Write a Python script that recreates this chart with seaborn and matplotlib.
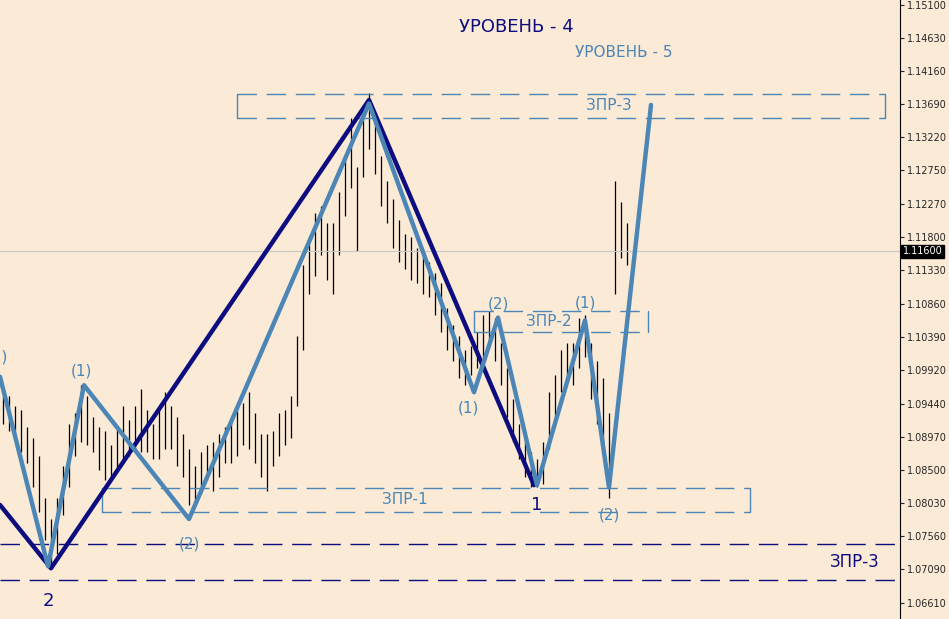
import numpy as np
import pandas as pd
import matplotlib
matplotlib.use("Agg")
import matplotlib.pyplot as plt
import seaborn as sns

# price bars (mid price and half-range), one bar every 2 x-units
bar_mid = [1.0935, 1.0930, 1.0920, 1.0905, 1.0885, 1.0860, 1.0830, 1.0780, 1.0745, 1.0770,
           1.0820, 1.0870, 1.0900, 1.0930, 1.0920, 1.0900, 1.0880, 1.0870, 1.0860, 1.0880,
           1.0900, 1.0895, 1.0910, 1.0920, 1.0905, 1.0890, 1.0900, 1.0920, 1.0910, 1.0890,
           1.0870, 1.0840, 1.0830, 1.0845, 1.0860, 1.0855, 1.0870, 1.0885, 1.0890, 1.0905,
           1.0915, 1.0920, 1.0895, 1.0870, 1.0860, 1.0880, 1.0900, 1.0910, 1.0925, 1.0990,
           1.1080, 1.1140, 1.1170, 1.1190, 1.1160, 1.1150, 1.1200, 1.1250, 1.1300, 1.1220,
           1.1310, 1.1345, 1.1310, 1.1260, 1.1230, 1.1200, 1.1175, 1.1160, 1.1150, 1.1140,
           1.1130, 1.1120, 1.1100, 1.1080, 1.1050, 1.1030, 1.1010, 1.0995, 1.1005, 1.1020,
           1.1040, 1.1050, 1.1035, 1.1000, 1.0960, 1.0920, 1.0890, 1.0870, 1.0850, 1.0845,
           1.0860, 1.0920, 1.0950, 1.0990, 1.1005, 1.1000, 1.1030, 1.1040, 1.0990, 1.0960,
           1.0930, 1.0870, 1.1180, 1.1190, 1.1170]
bar_span = [0.0020, 0.0025, 0.0020, 0.0030, 0.0025, 0.0035, 0.0040, 0.0030, 0.0035, 0.0040,
            0.0035, 0.0045, 0.0030, 0.0040, 0.0035, 0.0025, 0.0030, 0.0035, 0.0025, 0.0030,
            0.0040, 0.0025, 0.0030, 0.0045, 0.0030, 0.0025, 0.0035, 0.0040, 0.0030, 0.0035,
            0.0030, 0.0040, 0.0025, 0.0030, 0.0025, 0.0035, 0.0030, 0.0025, 0.0030, 0.0035,
            0.0030, 0.0040, 0.0035, 0.0030, 0.0040, 0.0025, 0.0030, 0.0025, 0.0030, 0.0050,
            0.0060, 0.0040, 0.0045, 0.0035, 0.0040, 0.0050, 0.0045, 0.0040, 0.0050, 0.0060,
            0.0045, 0.0040, 0.0040, 0.0035, 0.0030, 0.0035, 0.0030, 0.0025, 0.0030, 0.0025,
            0.0030, 0.0025, 0.0030, 0.0035, 0.0030, 0.0025, 0.0030, 0.0025, 0.0020, 0.0025,
            0.0030, 0.0025, 0.0030, 0.0030, 0.0035, 0.0030, 0.0025, 0.0030, 0.0025, 0.0020,
            0.0030, 0.0040, 0.0035, 0.0030, 0.0025, 0.0030, 0.0035, 0.0030, 0.0040, 0.0045,
            0.0050, 0.0060, 0.0080, 0.0040, 0.0030]

# wave of level 4 (navy) and level 5 (steel blue)
wave4_x = [0, 17, 123, 178]
wave4_y = [1.0800, 1.0710, 1.1375, 1.0828]
wave5_x = [0, 16, 28, 63, 123, 158, 166, 179, 195, 203, 217]
wave5_y = [1.0982, 1.0713, 1.0970, 1.0780, 1.1370, 1.0960, 1.1066, 1.0828, 1.1062, 1.0825, 1.1368]

# wave labels: text, x, y, colour key
lab_text = ["(2)", "(1)", "(2)", "2", "(1)", "(2)", "1", "(1)", "(2)"]
lab_x = [-1, 27, 63, 16, 156, 166, 179, 195, 203]
lab_y = [1.1010, 1.0990, 1.0745, 1.0664, 1.0938, 1.1085, 1.0800, 1.1087, 1.0785]
lab_c = ["l5", "l5", "l5", "l4", "l5", "l5", "l4", "l5", "l5"]

# target zones (ЗПР): x0, x1, y_low, y_high, label x
zone_name = ["ЗПР-3", "ЗПР-2", "ЗПР-1"]
zone_x0 = [79, 158, 34]
zone_x1 = [295, 216, 250]
zone_lo = [1.1350, 1.1045, 1.0790]
zone_hi = [1.1383, 1.1075, 1.0824]
zone_lx = [203, 183, 135]

level_lines = [1.0745, 1.0693]
yticks = [1.15100, 1.14630, 1.14160, 1.13690, 1.13220, 1.12750, 1.12270, 1.11800,
          1.11330, 1.10860, 1.10390, 1.09920, 1.09440, 1.08970, 1.08500, 1.08030,
          1.07560, 1.07090, 1.06610]
current_price = 1.11600

bg = "#FAEAD6"
navy = "#0D0D80"
steel = "#4C86B6"
cols = {"l4": navy, "l5": steel}
dash = (0, (14, 7))

sns.set_style("white")
fig = plt.figure(figsize=(9.49, 6.19), dpi=100, facecolor=bg)
ax = fig.add_axes([0, 0, 900 / 949, 1])
ax.set_facecolor(bg)
ax.set_xlim(0, 300)
ax.set_ylim(1.0638, 1.1517)

bars = pd.DataFrame({"x": np.arange(len(bar_mid)) * 2 + 1, "mid": bar_mid, "span": bar_span})
ax.vlines(bars["x"], bars["mid"] - bars["span"], bars["mid"] + bars["span"], color="black", lw=0.9)

for i, name in enumerate(zone_name):
    for yy in (zone_lo[i], zone_hi[i]):
        ax.plot([zone_x0[i], zone_x1[i]], [yy, yy], ls=dash, color=steel, lw=1)
    ax.plot([zone_x0[i], zone_x0[i]], [zone_lo[i], zone_hi[i]], color=steel, lw=1)
    ax.plot([zone_x1[i], zone_x1[i]], [zone_lo[i], zone_hi[i]], color=steel, lw=1)
    ax.text(zone_lx[i], (zone_lo[i] + zone_hi[i]) / 2, name, color=steel, fontsize=11,
            ha="center", va="center")

for yy in level_lines:
    ax.axhline(yy, color=navy, ls=dash, lw=1)
ax.text(285, 1.0719, "ЗПР-3", color=navy, fontsize=12, ha="center", va="center")
ax.axhline(current_price, color="#C8C8C8", lw=0.8)

w4 = pd.DataFrame({"x": wave4_x, "y": wave4_y})
w5 = pd.DataFrame({"x": wave5_x, "y": wave5_y})
sns.lineplot(data=w4, x="x", y="y", sort=False, color=navy, lw=3.2, ax=ax)
sns.lineplot(data=w5, x="x", y="y", sort=False, color=steel, lw=3.2, ax=ax)

for t, x, y, c in zip(lab_text, lab_x, lab_y, lab_c):
    ax.text(x, y, t, color=cols[c], fontsize=11 if c == "l5" else 13, ha="center", va="center")

ax.text(172, 1.1479, "УРОВЕНЬ - 4", color=navy, fontsize=13, ha="center", va="center")
ax.text(208, 1.1443, "УРОВЕНЬ - 5", color=steel, fontsize=11, ha="center", va="center")

ax.yaxis.tick_right()
ax.set_yticks(yticks)
ax.set_yticklabels([f"{v:.5f}" for v in yticks], fontsize=7)
ax.tick_params(axis="y", length=3, pad=2, right=True)
ax.set_xticks([])
ax.set_xlabel("")
ax.set_ylabel("")
for s in ["top", "left", "bottom"]:
    ax.spines[s].set_visible(False)
ax.spines["right"].set_color("black")
ax.text(1.003, current_price, f"{current_price:.5f}", transform=ax.get_yaxis_transform(),
        fontsize=7, color="white", va="center", ha="left",
        bbox=dict(boxstyle="square,pad=0.15", fc="black", ec="black"))

fig.savefig("out.png", dpi=100, facecolor=bg)
